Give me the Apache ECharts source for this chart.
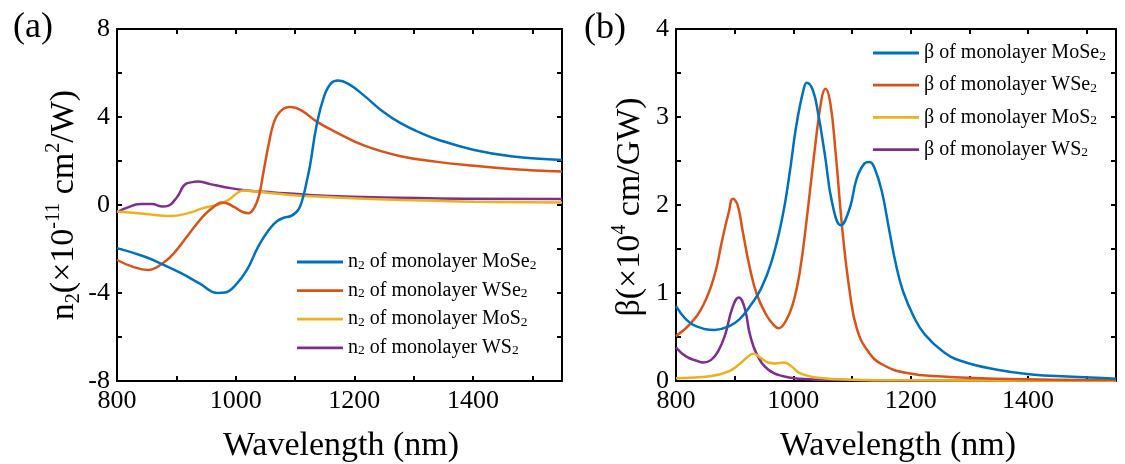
<!DOCTYPE html>
<html>
<head>
<meta charset="utf-8">
<script src="https://cdn.jsdelivr.net/npm/echarts@6/dist/echarts.min.js"></script>
<style>
html,body{margin:0;padding:0;background:#fff;}
#chart{width:1125px;height:464px;}
</style>
</head>
<body>
<div id="chart"></div>
<script>
// ---------- data: panel (a) n2 ----------
const n2WlMoSe2 = [800,846,877,908,939,970,982,1000,1019,1038,1056,1069,1081,1093,1102,1108,1114,1120,1126,1136,1149,1161,1173,1192,1217,1248,1278,1310,1340,1402,1464,1550];
const n2MoSe2   = [-1.96,-2.34,-2.7,-3.1,-3.56,-4.0,-3.98,-3.63,-2.95,-1.89,-1.13,-0.75,-0.58,-0.5,-0.33,-0.1,0.4,1.1,1.9,3.57,4.94,5.54,5.66,5.47,4.96,4.25,3.72,3.3,2.98,2.5,2.22,2.05];

const n2WlWSe2 = [800,826,852,877,896,920,945,958,970,976,985,998,1013,1022,1031,1039,1047,1056,1065,1075,1087,1093,1112,1136,1167,1217,1278,1340,1402,1464,1550];
const n2WSe2   = [-2.5,-2.8,-2.95,-2.65,-2.19,-1.36,-0.52,-0.19,0.05,0.11,0.08,-0.1,-0.33,-0.37,-0.14,0.39,1.52,2.81,3.8,4.25,4.44,4.45,4.28,3.8,3.34,2.7,2.22,1.96,1.78,1.64,1.52];

const n2WlMoS2 = [800,846,890,920,945,970,988,1004,1013,1031,1093,1155,1217,1340,1402,1550];
const n2MoS2   = [-0.3,-0.4,-0.5,-0.37,-0.14,0.01,0.24,0.57,0.66,0.62,0.46,0.36,0.28,0.19,0.15,0.11];

const n2WlWS2 = [800,815,840,859,877,886,902,914,927,936,957,982,1019,1063,1124,1217,1340,1550];
const n2WS2   = [-0.33,-0.14,0.04,0.04,-0.07,-0.04,0.39,0.92,1.04,1.07,0.95,0.81,0.66,0.57,0.46,0.36,0.30,0.27];

// ---------- data: panel (b) beta ----------
const bWlMoSe2 = [800,817,835,866,890,908,926,945,963,981,993,1005,1017,1023,1033,1042,1054,1066,1081,1096,1108,1121,1130,1139,1151,1163,1175,1187,1206,1224,1254,1285,1345,1406,1467,1550];
const bMoSe2   = [0.85,0.70,0.62,0.58,0.62,0.70,0.85,1.05,1.36,1.85,2.33,2.90,3.30,3.39,3.31,3.05,2.56,2.03,1.77,1.96,2.30,2.47,2.49,2.41,2.15,1.73,1.32,1.02,0.72,0.53,0.34,0.23,0.13,0.075,0.05,0.026];

const bWlWSe2 = [800,823,847,866,878,890,897,905,914,926,938,954,966,975,987,999,1011,1023,1036,1048,1055,1063,1072,1084,1096,1108,1127,1151,1194,1254,1345,1550];
const bWSe2   = [0.51,0.64,0.87,1.21,1.58,1.92,2.07,2.0,1.69,1.28,0.98,0.75,0.64,0.60,0.68,0.87,1.24,1.85,2.60,3.20,3.32,3.16,2.60,1.69,1.02,0.60,0.34,0.19,0.09,0.05,0.026,0.01];

const bWlMoS2 = [800,860,890,908,920,932,945,957,969,984,996,1011,1042,1102,1200,1550];
const bMoS2   = [0.03,0.056,0.11,0.19,0.26,0.31,0.26,0.21,0.20,0.21,0.17,0.09,0.038,0.015,0.008,0.003];

const bWlWS2 = [800,817,835,847,860,872,884,896,907,917,926,938,957,981,1011,1072,1550];
const bWS2   = [0.38,0.28,0.23,0.21,0.24,0.34,0.53,0.83,0.95,0.83,0.53,0.30,0.13,0.056,0.026,0.01,0.002];

const materials = ['MoSe', 'WSe', 'MoS', 'WS'];
const colors = ['#0072BD', '#D95319', '#EDB120', '#7E2F8E'];
const n2Names = materials.map(m => 'n2 of monolayer ' + m + '2');
const bNames = materials.map(m => 'β of monolayer ' + m + '2');

const n2Sets = [[n2WlMoSe2, n2MoSe2], [n2WlWSe2, n2WSe2], [n2WlMoS2, n2MoS2], [n2WlWS2, n2WS2]];
const bSets = [[bWlMoSe2, bMoSe2], [bWlWSe2, bWSe2], [bWlMoS2, bMoS2], [bWlWS2, bWS2]];

const FONT = 'Liberation Serif';
const pair = (xs, ys) => xs.map((x, i) => [x, ys[i]]);

function xAxes(gridIndex) {
  const base = {
    type: 'value', gridIndex, min: 800, max: 1550, interval: 100,
    axisLine: {show: true, onZero: false, lineStyle: {color: '#000', width: 2}},
    axisTick: {show: true, inside: true, length: 5, lineStyle: {color: '#000', width: 2}},
    splitLine: {show: false}
  };
  return [
    Object.assign({}, base, {position: 'bottom', axisLabel: {
      show: true, margin: 7, color: '#000', fontFamily: FONT, fontSize: 26,
      formatter: v => (v % 200 === 0 ? String(v) : '')}}),
    Object.assign({}, base, {position: 'top', axisLabel: {show: false}})
  ];
}
function yAxes(gridIndex, min, max, interval, labelStep) {
  const base = {
    type: 'value', gridIndex, min, max, interval,
    axisLine: {show: true, onZero: false, lineStyle: {color: '#000', width: 2}},
    axisTick: {show: true, inside: true, length: 5, lineStyle: {color: '#000', width: 2}},
    splitLine: {show: false}
  };
  return [
    Object.assign({}, base, {position: 'left', axisLabel: {
      show: true, margin: 7, color: '#000', fontFamily: FONT, fontSize: 26,
      formatter: v => (Math.abs(v % labelStep) < 1e-9 ? String(v) : '')}}),
    Object.assign({}, base, {position: 'right', axisLabel: {show: false}})
  ];
}

const legendRich = {
  m: {fontFamily: FONT, fontSize: 20, lineHeight: 20, color: '#000'},
  s: {fontFamily: FONT, fontSize: 13.5, lineHeight: 13, verticalAlign: 'bottom', color: '#000'}
};
const legendFmt = name => {
  const isN = name.startsWith('n2');
  const rest = name.slice(isN ? 2 : 0, name.length - 1);
  return (isN ? '{m|n}{s|2}' : '') + '{m|' + rest + '}{s|2}';
};

const series = [];
n2Sets.forEach((s, i) => series.push({
  name: n2Names[i], type: 'line', xAxisIndex: 0, yAxisIndex: 0,
  data: pair(s[0], s[1]), smooth: 0.45, symbol: 'none', showSymbol: false,
  lineStyle: {color: colors[i], width: 2.5}, itemStyle: {color: colors[i]}, z: 10 - i
}));
bSets.forEach((s, i) => series.push({
  name: bNames[i], type: 'line', xAxisIndex: 2, yAxisIndex: 2,
  data: pair(s[0], s[1]), smooth: 0.45, symbol: 'none', showSymbol: false,
  lineStyle: {color: colors[i], width: 2.5}, itemStyle: {color: colors[i]}, z: 10 - i
}));

const titleRich = {
  m: {fontFamily: FONT, fontSize: 34, lineHeight: 40, color: '#000'},
  p: {fontFamily: FONT, fontSize: 20, lineHeight: 20, verticalAlign: 'top', color: '#000'},
  s: {fontFamily: FONT, fontSize: 20, lineHeight: 20, verticalAlign: 'bottom', color: '#000'}
};

const option = {
  animation: false,
  backgroundColor: '#fff',
  grid: [
    {left: 117, top: 29, width: 445, height: 352, containLabel: false},
    {left: 676, top: 29, width: 440, height: 352, containLabel: false}
  ],
  xAxis: [...xAxes(0), ...xAxes(1)],
  yAxis: [...yAxes(0, -8, 8, 2, 4), ...yAxes(1, 0, 4, 0.5, 1)],
  legend: [
    {data: n2Names, orient: 'vertical', left: 297, top: 252, padding: 0,
     itemWidth: 46, itemHeight: 14, itemGap: 8.6, icon: 'path://M0,5.8 L46,5.8 L46,8.6 L0,8.6 Z',
     formatter: legendFmt, textStyle: {rich: legendRich}, selectedMode: false},
    {data: bNames, orient: 'vertical', left: 873, top: 43, padding: 0,
     itemWidth: 46, itemHeight: 14, itemGap: 12.2, icon: 'path://M0,5.8 L46,5.8 L46,8.6 L0,8.6 Z',
     formatter: legendFmt, textStyle: {rich: legendRich}, selectedMode: false}
  ],
  graphic: [
    {type: 'text', x: 33, y: 28, style: {text: '(a)', font: '36px "Liberation Serif"', fill: '#000', align: 'center', verticalAlign: 'middle'}},
    {type: 'text', x: 605, y: 29, style: {text: '(b)', font: '36px "Liberation Serif"', fill: '#000', align: 'center', verticalAlign: 'middle'}},
    {type: 'text', x: 341, y: 446, style: {text: 'Wavelength (nm)', font: '34px "Liberation Serif"', fill: '#000', align: 'center', verticalAlign: 'middle'}},
    {type: 'text', x: 898, y: 446, style: {text: 'Wavelength (nm)', font: '34px "Liberation Serif"', fill: '#000', align: 'center', verticalAlign: 'middle'}},
    {type: 'text', x: 64, y: 205, rotation: Math.PI / 2, style: {
      text: '{m|n}{s|2}{m|(×10}{p|-11}{m| cm}{p|2}{m|/W)}', rich: titleRich,
      align: 'center', verticalAlign: 'middle'}},
    {type: 'text', x: 630, y: 207, rotation: Math.PI / 2, style: {
      text: '{m|β(×10}{p|4}{m| cm/GW)}', rich: titleRich,
      align: 'center', verticalAlign: 'middle'}}
  ],
  series
};

const chart = echarts.init(document.getElementById('chart'), null, {renderer: 'canvas'});
chart.setOption(option);
</script>
</body>
</html>
